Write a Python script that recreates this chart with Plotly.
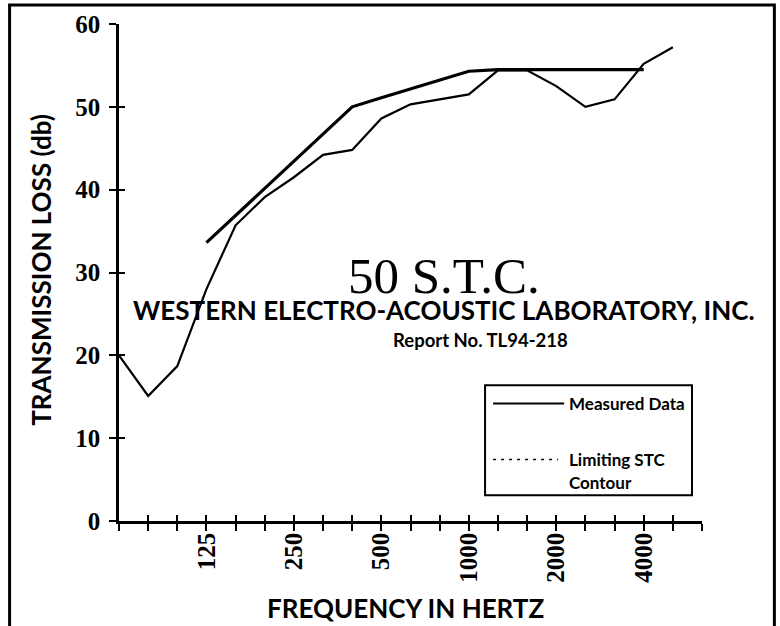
import plotly.graph_objects as go

# ---- data ----
freqs = ["63", "80", "100", "125", "160", "200", "250", "315", "400", "500",
         "630", "800", "1000", "1250", "1600", "2000", "2500", "3150", "4000",
         "5000", "6300"]
labeled = ["125", "250", "500", "1000", "2000", "4000"]

measured_freqs = freqs[:20]
measured_tl = [20.0, 15.1, 18.7, 28.0, 35.7, 39.1, 41.5, 44.2, 44.8, 48.6,
               50.3, 50.9, 51.5, 54.4, 54.4, 52.5, 50.0, 50.9, 55.2, 57.2]

contour_freqs = freqs[3:19]
contour_tl = [33.6, 36.9, 40.2, 43.4, 46.7, 50.0, 51.1, 52.2, 53.3, 54.3,
              54.5, 54.5, 54.5, 54.5, 54.5, 54.5]

y_ticks = [0, 10, 20, 30, 40, 50, 60]

# ---- geometry helpers (pixel -> paper) ----
L, R, T, B = 119.3, 701.7, 24.0, 520.7
W, H = R - L, B - T
def px(x): return (x - L) / W
def py(y): return (B - y) / H

fig = go.Figure()
fig.add_trace(go.Scatter(x=contour_freqs, y=contour_tl, mode="lines",
                         line=dict(color="black", width=3.2),
                         name="Limiting STC Contour", showlegend=False))
fig.add_trace(go.Scatter(x=measured_freqs, y=measured_tl, mode="lines",
                         line=dict(color="black", width=2.2),
                         name="Measured Data", showlegend=False))
# invisible trace for overlay axes (inside ticks)
fig.add_trace(go.Scatter(x=[freqs[0]], y=[0], xaxis="x2", yaxis="y2",
                         mode="markers", marker=dict(opacity=0),
                         showlegend=False, hoverinfo="skip"))

tick_font = dict(family="Liberation Serif", size=25, color="black", weight="bold")
ticktext = [f if f in labeled else "" for f in freqs]

fig.update_layout(
    width=780, height=626,
    margin=dict(l=L, r=780 - R, t=T, b=626 - B),
    paper_bgcolor="white", plot_bgcolor="white",
    xaxis=dict(type="category", categoryorder="array", categoryarray=freqs,
               range=[0, 20], showgrid=False, zeroline=False,
               showline=True, linecolor="black", linewidth=2.5,
               ticks="outside", ticklen=7, tickwidth=2, tickcolor="black",
               tickmode="array", tickvals=freqs, ticktext=ticktext,
               tickangle=-90, tickfont=tick_font, ticklabelstandoff=-8),
    yaxis=dict(range=[0, 60], showgrid=False, zeroline=False,
               showline=True, linecolor="black", linewidth=2.5,
               ticks="outside", ticklen=7, tickwidth=2, tickcolor="black",
               tickmode="array", tickvals=y_ticks, tickfont=tick_font,
               ticklabelstandoff=4),
    xaxis2=dict(type="category", categoryorder="array", categoryarray=freqs,
                range=[0, 20], overlaying="x", anchor="y2", side="bottom",
                showgrid=False, zeroline=False, showline=False,
                ticks="inside", ticklen=6, tickwidth=2, tickcolor="black",
                tickmode="array", tickvals=freqs, showticklabels=False),
    yaxis2=dict(range=[0, 60], overlaying="y", anchor="x2", side="left",
                showgrid=False, zeroline=False, showline=False,
                ticks="inside", ticklen=6, tickwidth=2, tickcolor="black",
                tickmode="array", tickvals=y_ticks, showticklabels=False),
    showlegend=False,
)

sans = "Lato"
anns = [
    dict(text="50 S.T.C.", x=px(444), y=py(276),
         font=dict(family="Liberation Serif", size=51, color="black")),
    dict(text="WESTERN ELECTRO-ACOUSTIC LABORATORY, INC.", x=px(444), y=py(310),
         font=dict(family=sans, size=26, color="black", weight="bold")),
    dict(text="Report No. TL94-218", x=px(480), y=py(340),
         font=dict(family=sans, size=18.5, color="black", weight="bold")),
    dict(text="TRANSMISSION LOSS (db)", x=px(42), y=py(270), textangle=-90,
         font=dict(family=sans, size=26, color="black", weight="bold")),
    dict(text="FREQUENCY IN HERTZ", x=px(406), y=py(608),
         font=dict(family=sans, size=26, color="black", weight="bold")),
    dict(text="Measured Data", x=px(567), y=py(403), xanchor="left",
         font=dict(family=sans, size=17, color="black", weight="bold")),
    dict(text="Limiting STC", x=px(567), y=py(459), xanchor="left",
         font=dict(family=sans, size=17, color="black", weight="bold")),
    dict(text="Contour", x=px(567), y=py(482), xanchor="left",
         font=dict(family=sans, size=17, color="black", weight="bold")),
]
for a in anns:
    a.setdefault("xanchor", "center")
    fig.add_annotation(xref="paper", yref="paper", yanchor="middle",
                       showarrow=False, **a)

shapes = [
    # outer frame
    dict(type="rect", x0=px(10), x1=px(774), y0=py(640), y1=py(5),
         line=dict(color="black", width=3)),
    # legend box
    dict(type="rect", x0=px(485), x1=px(691.7), y0=py(495), y1=py(385),
         line=dict(color="black", width=2)),
    dict(type="line", x0=px(493), x1=px(564), y0=py(403.3), y1=py(403.3),
         line=dict(color="black", width=2)),
    dict(type="line", x0=px(493), x1=px(558), y0=py(459.3), y1=py(459.3),
         line=dict(color="black", width=1.5, dash="3px,5px")),
]
for s in shapes:
    fig.add_shape(xref="paper", yref="paper", layer="above", **s)

fig.write_html("out.html", config={"displayModeBar": False},
               post_script="document.body.style.margin='0';document.body.style.overflow='hidden';")
